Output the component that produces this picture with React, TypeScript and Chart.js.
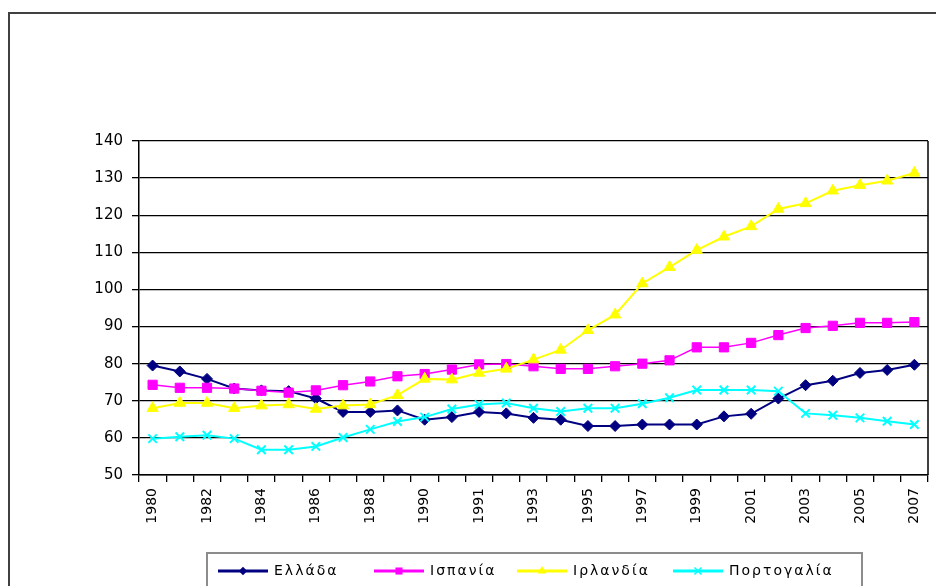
import React, { useEffect, useRef } from 'react';
import { Chart, registerables } from 'chart.js';

Chart.register(...registerables);

const years = [
  '1980', '1981', '1982', '1983', '1984', '1985', '1986', '1987', '1988', '1989', '1990', '1991',
  '1991', '1992', '1993', '1994', '1995', '1996', '1997', '1998', '1999', '2000', '2001', '2002',
  '2003', '2004', '2005', '2006', '2007',
];

const greece = [79.5, 77.9, 75.9, 73.3, 72.8, 72.6, 70.6, 67.0, 67.0, 67.4, 64.9, 65.6, 67.0,
  66.6, 65.4, 64.9, 63.2, 63.2, 63.6, 63.6, 63.6, 65.8, 66.5, 70.6, 74.2, 75.4, 77.5, 78.3, 79.7];
const spain = [74.3, 73.5, 73.5, 73.3, 72.7, 72.2, 72.8, 74.2, 75.2, 76.6, 77.2, 78.4, 79.8,
  79.9, 79.3, 78.6, 78.6, 79.3, 80.0, 80.9, 84.4, 84.4, 85.6, 87.7, 89.6, 90.2, 91.0, 91.0, 91.2];
const ireland = [68.0, 69.4, 69.4, 68.0, 68.7, 69.0, 67.8, 68.7, 69.0, 71.5, 75.9, 75.7, 77.5,
  78.6, 81.1, 83.7, 89.0, 93.2, 101.6, 106.0, 110.6, 114.2, 117.0, 121.7, 123.2, 126.6, 128.1, 129.3, 131.4];
const portugal = [59.8, 60.3, 60.7, 59.8, 56.8, 56.8, 57.7, 60.1, 62.3, 64.4, 65.6, 67.8, 69.0,
  69.4, 68.0, 67.1, 68.0, 68.0, 69.2, 70.8, 72.9, 72.9, 72.9, 72.6, 66.6, 66.1, 65.4, 64.5, 63.6];

const seriesNames = ['Ελλάδα', 'Ισπανία', 'Ιρλανδία', 'Πορτογαλία'];
const seriesColors = ['#000080', '#FF00FF', '#FFFF00', '#00FFFF'];
const seriesMarkers = ['rectRot', 'rect', 'triangle', 'crossRot'];

const yMin = 50;
const yMax = 140;
const yStep = 10;

const FONT = '"DejaVu Sans", Verdana, sans-serif';

function drawMarker(ctx: CanvasRenderingContext2D, style: string, x: number, y: number, r: number, color: string) {
  ctx.save();
  ctx.fillStyle = color;
  ctx.strokeStyle = color;
  ctx.beginPath();
  if (style === 'rectRot') {
    const s = r * Math.SQRT1_2 * 1.2;
    ctx.moveTo(x, y - s);
    ctx.lineTo(x + s, y);
    ctx.lineTo(x, y + s);
    ctx.lineTo(x - s, y);
    ctx.closePath();
    ctx.fill();
  } else if (style === 'rect') {
    const s = r * Math.SQRT1_2;
    ctx.rect(x - s, y - s, 2 * s, 2 * s);
    ctx.fill();
  } else if (style === 'triangle') {
    ctx.moveTo(x, y - r);
    ctx.lineTo(x + r * 0.866, y + r * 0.5);
    ctx.lineTo(x - r * 0.866, y + r * 0.5);
    ctx.closePath();
    ctx.fill();
  } else {
    const s = r * Math.SQRT1_2;
    ctx.lineWidth = 1.5;
    ctx.moveTo(x - s, y - s);
    ctx.lineTo(x + s, y + s);
    ctx.moveTo(x + s, y - s);
    ctx.lineTo(x - s, y + s);
    ctx.stroke();
  }
  ctx.restore();
}

const framePlugin = {
  id: 'frame',
  beforeDraw(chart: any) {
    const ctx = chart.ctx as CanvasRenderingContext2D;
    ctx.save();
    ctx.fillStyle = '#ffffff';
    ctx.fillRect(0, 0, chart.width, chart.height);
    ctx.strokeStyle = '#404040';
    ctx.lineWidth = 2;
    ctx.strokeRect(9, 13, chart.width + 20, chart.height + 20);
    ctx.restore();
  },
  beforeDatasetsDraw(chart: any) {
    const ctx = chart.ctx as CanvasRenderingContext2D;
    const a = chart.chartArea;
    ctx.save();
    ctx.strokeStyle = '#000';
    ctx.lineWidth = 1.5;
    ctx.beginPath();
    ctx.moveTo(a.right, a.top);
    ctx.lineTo(a.right, a.bottom);
    ctx.stroke();
    ctx.restore();
  },
  afterDraw(chart: any) {
    const ctx = chart.ctx as CanvasRenderingContext2D;
    ctx.save();
    ctx.strokeStyle = '#8c8c8c';
    ctx.lineWidth = 2;
    ctx.strokeRect(207, 553, 655, 45);
    const centers = [243, 399, 542, 698];
    const y = 571;
    seriesNames.forEach((name, i) => {
      const cx = centers[i];
      ctx.strokeStyle = seriesColors[i];
      ctx.lineWidth = 3;
      ctx.beginPath();
      ctx.moveTo(cx - 25, y);
      ctx.lineTo(cx + 25, y);
      ctx.stroke();
      drawMarker(ctx, seriesMarkers[i], cx, y, 5, seriesColors[i]);
      ctx.fillStyle = '#000';
      ctx.font = `14px ${FONT}`;
      ctx.textBaseline = 'middle';
      ctx.textAlign = 'left';
      (ctx as any).letterSpacing = '2px';
      ctx.fillText(name, cx + 31, y);
      (ctx as any).letterSpacing = '0px';
    });
    ctx.restore();
  },
};

export default function App() {
  const ref = useRef<HTMLCanvasElement | null>(null);

  useEffect(() => {
    if (!ref.current) return;
    const series = [greece, spain, ireland, portugal];
    const radii = [5.5, 6.5, 6.5, 6];
    const widths = [2, 1.5, 2, 2];
    const chart = new Chart(ref.current, {
      type: 'line',
      data: {
        labels: years,
        datasets: series.map((d, i) => ({
          label: seriesNames[i],
          data: d,
          borderColor: seriesColors[i],
          backgroundColor: seriesColors[i],
          borderWidth: widths[i],
          pointStyle: seriesMarkers[i] as any,
          pointRadius: radii[i],
          pointBorderWidth: i === 3 ? 2 : 1,
          pointBackgroundColor: seriesColors[i],
          pointBorderColor: seriesColors[i],
          tension: 0,
          order: 4 - i,
        })),
      },
      options: {
        animation: false,
        responsive: false,
        maintainAspectRatio: false,
        layout: { padding: { top: 141, right: 2, bottom: 41, left: 0 } },
        plugins: {
          legend: { display: false },
          tooltip: { enabled: false },
          title: { display: false },
        },
        scales: {
          x: {
            type: 'category',
            offset: true,
            grid: {
              offset: true,
              drawOnChartArea: false,
              drawTicks: true,
              tickLength: 7,
              color: '#000',
              lineWidth: 1.3,
            },
            border: { color: '#000', width: 1.5 },
            ticks: {
              autoSkip: false,
              maxRotation: 90,
              minRotation: 90,
              padding: 6,
              color: '#000',
              font: { family: FONT, size: 14 },
              callback: (_v: any, i: number) => (i % 2 === 0 ? years[i] : ''),
            },
            afterFit: (s: any) => {
              s.height = 70;
              s.paddingLeft = 0;
              s.paddingRight = 0;
            },
          },
          y: {
            min: yMin,
            max: yMax,
            grid: {
              color: '#000',
              lineWidth: 1.3,
              drawTicks: true,
              tickLength: 7,
            },
            border: { color: '#000', width: 1.5 },
            ticks: {
              stepSize: yStep,
              padding: 9,
              color: '#000',
              font: { family: FONT, size: 15 },
            },
            afterFit: (s: any) => {
              s.width = 139;
              s.paddingTop = 0;
              s.paddingBottom = 0;
            },
          },
        },
      },
      plugins: [framePlugin],
    });
    return () => chart.destroy();
  }, []);

  return (
    <div style={{ position: 'absolute', left: 0, top: 0, width: 936, height: 586 }}>
      <canvas ref={ref} width={936} height={586} style={{ width: 936, height: 586, display: 'block' }} />
    </div>
  );
}
